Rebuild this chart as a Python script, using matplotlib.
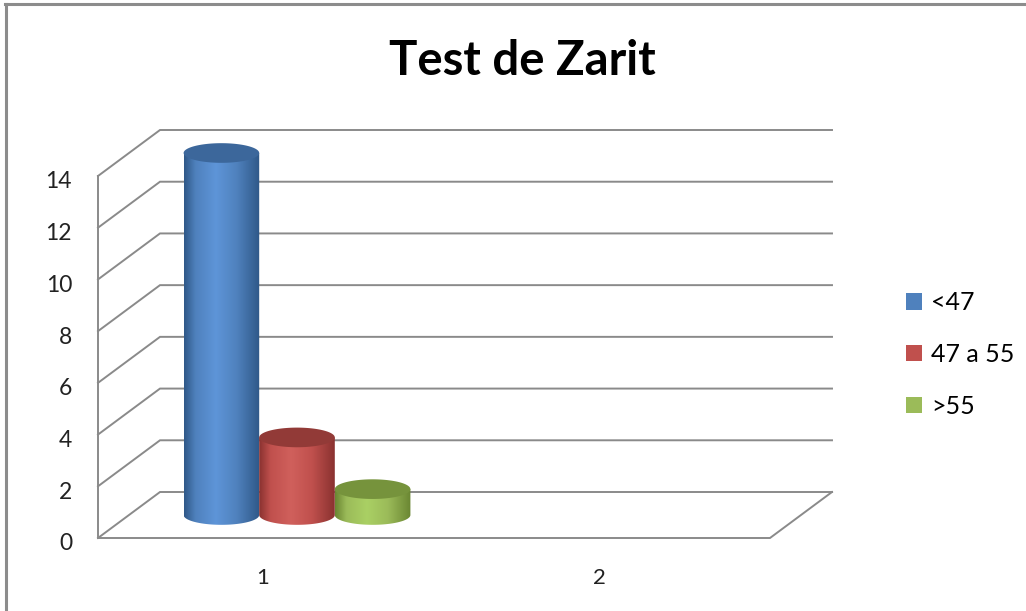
import numpy as np
import matplotlib.pyplot as plt
from matplotlib.patches import Polygon, Patch
from matplotlib.colors import LinearSegmentedColormap

# Test de Zarit - 3D cylinder chart (Excel style)

categories = ["1", "2"]
series = ["<47", "47 a 55", ">55"]
values_lt47 = [14, np.nan]
values_47_55 = [3, np.nan]
values_gt55 = [1, np.nan]
yticks = [0, 2, 4, 6, 8, 10, 12, 14]

all_values = [values_lt47, values_47_55, values_gt55]

# side colours: edge, body, highlight, top
palette = [
    ("#2F5888", "#4F81BD", "#5E95D8", "#3C679B"),
    ("#8A3230", "#C0504D", "#D0605C", "#923A37"),
    ("#6A8632", "#9BBB59", "#AAD064", "#76933C"),
]
grid_color = "#8A8A8A"

W, H = 1026, 611
fig = plt.figure(figsize=(W / 100, H / 100), dpi=100)
ax = fig.add_axes([0, 0, 1, 1])

# pixel layout of the plot (front origin, scale per unit)
ox, oy = 98, 538
px_cat = 336
px_val = 362 / 14
dx = 62 / px_cat          # depth offset in category units
dy = 46 / px_val          # depth offset in value units
bar_w = 0.225
ell_h = 0.38              # half height of the cylinder ellipse (value units)

ax.set_xlim(-ox / px_cat, (W - ox) / px_cat)
ax.set_ylim(-(H - oy) / px_val, oy / px_val)
ax.axis("off")

ncat = len(categories)
top_v = yticks[-1]

# walls, floor and gridlines
for v in yticks:
    ax.plot([0, dx, ncat + dx], [v, v + dy, v + dy], color=grid_color, lw=1.4,
            solid_joinstyle="miter", zorder=1)
ax.plot([0, 0], [0, top_v], color=grid_color, lw=1.4, zorder=1)
ax.plot([0, ncat, ncat + dx], [0, 0, dy], color=grid_color, lw=1.4,
        solid_joinstyle="miter", zorder=1)

# tick labels
for v in yticks:
    ax.text(-26 / px_cat, v - 6 / px_val, str(v), ha="right", va="center",
            fontsize=16.5, family="Lato", color="#222222")
for i, c in enumerate(categories):
    ax.text(i + 0.5 - 3 / px_cat, -40 / px_val, c, ha="center", va="center",
            fontsize=16, family="Lato", color="#222222")

# cylinders
t = np.linspace(0, np.pi, 60)
for s, vals in enumerate(all_values):
    edge, body, light, top = palette[s]
    cmap = LinearSegmentedColormap.from_list(
        "c%d" % s, [(0, edge), (0.15, body), (0.42, light), (0.7, body), (1, edge)])
    for i, v in enumerate(vals):
        if np.isnan(v):
            continue
        cx = i + 0.5 + (s - 1) * bar_w + dx / 2
        base = dy / 2
        a = bar_w / 2
        xs_bot = cx - a * np.cos(t)
        ys_bot = base - ell_h * np.sin(t)
        xs = np.concatenate([[cx - a], xs_bot, [cx + a]])
        ys = np.concatenate([[base + v], ys_bot, [base + v]])
        clip = Polygon(np.column_stack([xs, ys]), closed=True, fc="none", ec="none")
        ax.add_patch(clip)
        grad = np.linspace(0, 1, 200).reshape(1, -1)
        im = ax.imshow(grad, cmap=cmap, aspect="auto", interpolation="bicubic",
                       extent=[cx - a, cx + a, base - ell_h, base + v], zorder=3 + s)
        im.set_clip_path(clip)
        # top ellipse
        tt = np.linspace(0, 2 * np.pi, 120)
        ax.add_patch(Polygon(np.column_stack([cx + a * np.cos(tt), base + v + ell_h * np.sin(tt)]),
                             closed=True, fc=top, ec="none", zorder=3.5 + s))

ax.set_xlim(-ox / px_cat, (W - ox) / px_cat)
ax.set_ylim(-(H - oy) / px_val, oy / px_val)

# legend
handles = [Patch(facecolor=palette[k][1], edgecolor="none") for k in range(len(series))]
fig.legend(handles, series, loc="center left", bbox_to_anchor=(0.861, 0.42),
           frameon=False, prop={"family": "Lato", "size": 18},
           handlelength=0.65, handleheight=0.65, handletextpad=0.35, labelspacing=1.15)

fig.text(0.509, 0.9, "Test de Zarit", ha="center", va="center",
         fontsize=34, fontweight="bold", family="Lato")

# chart border (top and left only visible)
fig.add_artist(plt.Line2D([5 / W, 1], [1 - 4 / H, 1 - 4 / H], color="#8C8C8C", lw=2.2))
fig.add_artist(plt.Line2D([6 / W, 6 / W], [0, 1 - 4 / H], color="#8C8C8C", lw=2.2))

fig.savefig("out.png", dpi=100)
